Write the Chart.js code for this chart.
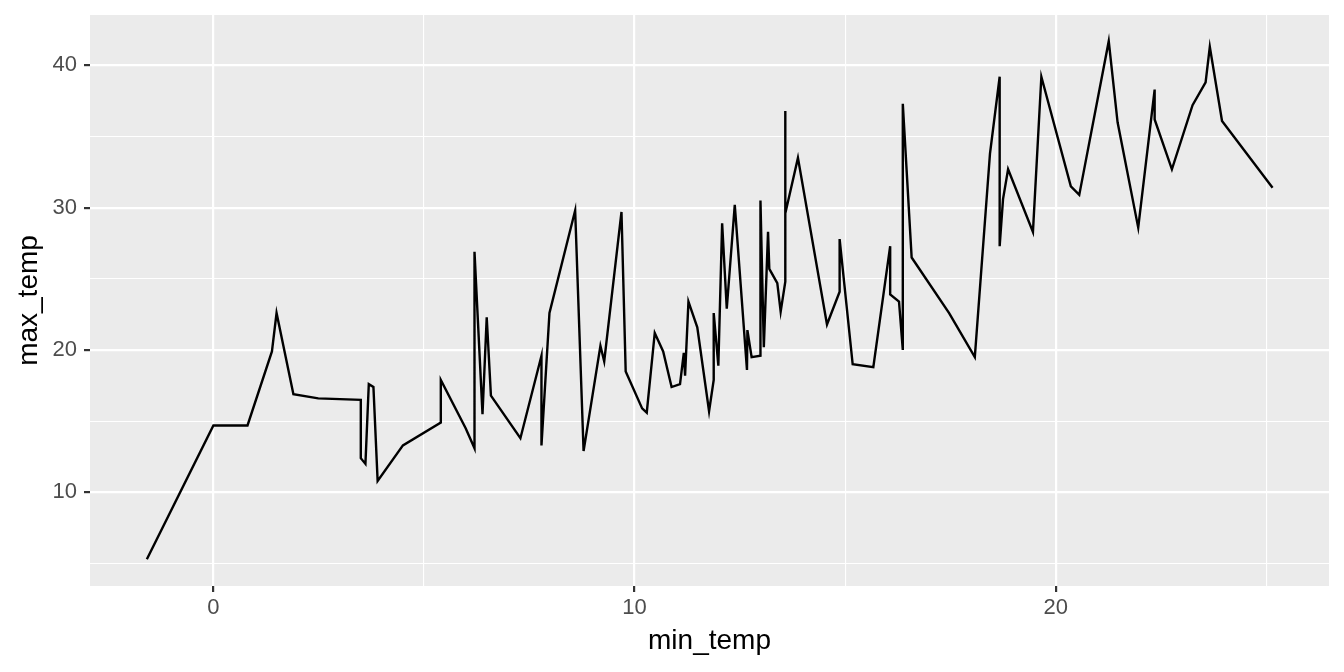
<!DOCTYPE html>
<html>
<head>
<meta charset="utf-8">
<script src="https://cdn.jsdelivr.net/npm/chart.js@4"></script>
<style>
  body { margin: 0; background: #ffffff; }
  #wrap { width: 1344px; height: 672px; position: relative; }
</style>
</head>
<body>
<div id="wrap"><canvas id="chart"></canvas></div>
<script>
// values (sorted by min_temp, as geom_line draws them)
const minTemp = [-1.58, 0, 0.81, 1.39, 1.5, 1.9, 2.49, 3.5, 3.5, 3.61, 3.69, 3.8, 3.9, 4.5, 5.4, 5.4,
  5.99, 6.2, 6.2, 6.39, 6.49, 6.59, 7.29, 7.79, 7.79, 7.98, 8.59, 8.79, 9.19, 9.28, 9.69, 9.79,
  10.18, 10.29, 10.48, 10.68, 10.88, 11.08, 11.17, 11.2, 11.28, 11.49, 11.77, 11.88, 11.88, 11.99,
  12.08, 12.19, 12.38, 12.67, 12.68, 12.78, 12.99, 12.99, 13.07, 13.17, 13.2, 13.39, 13.47, 13.58,
  13.58, 13.58, 13.88, 14.57, 14.87, 14.87, 15.18, 15.67, 16.07, 16.07, 16.28, 16.37, 16.37, 16.58,
  17.47, 18.08, 18.44, 18.67, 18.67, 18.75, 18.87, 19.46, 19.66, 20.36, 20.56, 21.26, 21.47, 21.96,
  22.35, 22.35, 22.76, 23.25, 23.56, 23.66, 23.95, 25.15];
const maxTemp = [5.3, 14.7, 14.7, 19.9, 22.6, 16.9, 16.6, 16.5, 12.4, 12.0, 17.6, 17.4, 10.8, 13.3, 14.9, 17.9,
  14.5, 13.1, 26.9, 15.5, 22.3, 16.8, 13.8, 19.6, 13.3, 22.6, 29.8, 12.9, 20.3, 19.2, 29.7, 18.5,
  15.9, 15.6, 21.2, 19.9, 17.4, 17.6, 19.8, 18.2, 23.4, 21.6, 15.7, 17.9, 22.6, 18.9,
  28.9, 22.9, 30.2, 18.6, 21.4, 19.5, 19.6, 30.5, 20.2, 28.3, 25.7, 24.7, 22.7, 24.8,
  36.8, 29.6, 33.5, 21.8, 24.1, 27.8, 19.0, 18.8, 27.3, 23.9, 23.4, 20.0, 37.3, 26.5,
  22.6, 19.5, 33.8, 39.2, 27.3, 30.6, 32.7, 28.3, 39.2, 31.5, 30.9, 41.7, 36.0, 28.6,
  38.3, 36.2, 32.7, 37.2, 38.8, 41.3, 36.1, 31.4];

const xMajor = [0, 10, 20];
const xMinor = [5, 15, 25];
const yMajor = [10, 20, 30, 40];
const yMinor = [5, 15, 25, 35];

const points = minTemp.map((x, i) => ({ x: x, y: maxTemp[i] }));

const FONT = "'Liberation Sans', Arial, sans-serif";

function isMajor(ctx, major) {
  return ctx.tick && major.includes(ctx.tick.value);
}

function gridFor(major) {
  return {
    color: '#FFFFFF',
    lineWidth: ctx => isMajor(ctx, major) ? 2.2 : 1.1,
    drawTicks: true,
    tickLength: 6,
    tickWidth: 2.2,
    tickColor: ctx => isMajor(ctx, major) ? '#333333' : 'rgba(0,0,0,0)'
  };
}

// grey panel behind the grid
const panelBg = {
  id: 'panelBg',
  beforeDraw(chart) {
    const a = chart.chartArea;
    const c = chart.ctx;
    c.save();
    c.fillStyle = '#EBEBEB';
    c.fillRect(a.left, a.top, a.right - a.left, a.bottom - a.top);
    c.restore();
  }
};

const ctx = document.getElementById('chart').getContext('2d');
new Chart(ctx, {
  type: 'scatter',
  data: {
    datasets: [{
      data: points,
      showLine: true,
      borderColor: '#000000',
      borderWidth: 2.4,
      pointRadius: 0,
      fill: false,
      tension: 0
    }]
  },
  plugins: [panelBg],
  options: {
    responsive: true,
    maintainAspectRatio: false,
    animation: false,
    layout: { padding: { top: 15, right: 15, left: 0, bottom: 0 } },
    plugins: { legend: { display: false }, tooltip: { enabled: false } },
    scales: {
      x: {
        type: 'linear',
        min: -2.93,
        max: 26.49,
        afterBuildTicks: s => { s.ticks = xMajor.concat(xMinor).sort((a, b) => a - b).map(v => ({ value: v })); },
        afterFit: s => { s.height = 86; s.paddingLeft = 0; s.paddingRight = 0; },
        border: { display: false },
        grid: gridFor(xMajor),
        ticks: {
          autoSkip: false,
          maxRotation: 0,
          padding: 3,
          color: '#4D4D4D',
          font: { family: FONT, size: 22 },
          callback: v => xMajor.includes(v) ? String(v) : ''
        },
        title: {
          display: true,
          text: 'min_temp',
          color: '#000000',
          font: { family: FONT, size: 28 },
          padding: { top: 0, bottom: 14 }
        }
      },
      y: {
        type: 'linear',
        min: 3.42,
        max: 43.54,
        afterBuildTicks: s => { s.ticks = yMajor.concat(yMinor).sort((a, b) => a - b).map(v => ({ value: v })); },
        afterFit: s => { s.width = 90; s.paddingTop = 0; s.paddingBottom = 0; },
        border: { display: false },
        grid: gridFor(yMajor),
        ticks: {
          autoSkip: false,
          padding: 7,
          color: '#4D4D4D',
          font: { family: FONT, size: 22 },
          callback: v => yMajor.includes(v) ? String(v) : ''
        },
        title: {
          display: true,
          text: 'max_temp',
          color: '#000000',
          font: { family: FONT, size: 28 },
          padding: { top: 12, bottom: 0 }
        }
      }
    }
  }
});
</script>
</body>
</html>
